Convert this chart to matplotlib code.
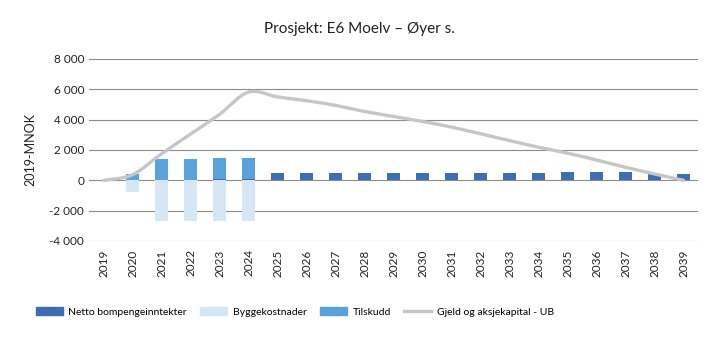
import numpy as np
import matplotlib.pyplot as plt
from matplotlib.path import Path
from matplotlib.patches import PathPatch
from matplotlib.lines import Line2D
from matplotlib.ticker import FuncFormatter

plt.rcParams['font.family'] = ['Lato', 'DejaVu Sans']

years = [str(y) for y in range(2019, 2040)]
netto = [0, 0, 40, 50, 80, 80, 470, 470, 470, 480, 480, 490, 490, 490, 490, 490,
         520, 520, 520, 400, 420]
bygg = [0, -750, -2680, -2680, -2680, -2680] + [0] * 15
tilskudd = [0, 420, 1350, 1330, 1390, 1390] + [0] * 15
gjeld = [0, 370, 1750, 3050, 4350, 5820, 5500, 5250, 4940, 4540, 4210, 3880,
         3510, 3070, 2620, 2185, 1790, 1340, 860, 420, 0]

c_netto = '#3e6db3'
c_bygg = '#d5e6f5'
c_tilsk = '#5aa2db'
c_line = '#c6c6c6'

fig = plt.figure(figsize=(7.19, 3.41), dpi=100)
ax = fig.add_axes([0.1238, 0.2933, 0.847, 0.5337])

x = np.arange(len(years))
w = 0.42
ax.bar(x, netto, w, color=c_netto, zorder=2)
ax.bar(x, bygg, w, color=c_bygg, zorder=2)
ax.bar(x, tilskudd, w, bottom=netto, color=c_tilsk, zorder=2)

# smoothed line (Catmull-Rom as cubic bezier)
pts = np.column_stack([x, gjeld]).astype(float)
verts = [pts[0]]
codes = [Path.MOVETO]
for i in range(len(pts) - 1):
    p0 = pts[max(i - 1, 0)]
    p1 = pts[i]
    p2 = pts[i + 1]
    p3 = pts[min(i + 2, len(pts) - 1)]
    verts += [p1 + (p2 - p0) / 6, p2 - (p3 - p1) / 6, p2]
    codes += [Path.CURVE4] * 3
ax.add_patch(PathPatch(Path(verts, codes), fill=False, edgecolor=c_line,
                       lw=2.4, zorder=3, capstyle='round'))

ax.set_xlim(-0.5, len(years) - 0.5)
ax.set_ylim(-4000, 8000)
ax.set_yticks(range(-4000, 8001, 2000))
ax.yaxis.set_major_formatter(FuncFormatter(lambda v, p: f'{int(v):,}'.replace(',', ' ')))
ax.set_xticks(x)
ax.set_xticklabels(years, rotation=90)
ax.grid(axis='y', color='#8c8c8c', lw=0.8, zorder=0)
ax.set_axisbelow(True)
for s in ax.spines.values():
    s.set_visible(False)
ax.tick_params(length=0, labelsize=8.5, colors='#222222')
ax.tick_params(axis='x', pad=6)
ax.set_ylabel('2019-MNOK', fontsize=9, labelpad=9, color='#222222')

fig.suptitle('Prosjekt: E6 Moelv – Øyer s.', x=0.5, y=0.935, fontsize=11, color='#222222')

handles = [
    plt.Rectangle((0, 0), 1, 1, color=c_netto),
    plt.Rectangle((0, 0), 1, 1, color=c_bygg),
    plt.Rectangle((0, 0), 1, 1, color=c_tilsk),
    Line2D([0], [0], color=c_line, lw=2.4),
]
labels = ['Netto bompengeinntekter', 'Byggekostnader', 'Tilskudd', 'Gjeld og aksjekapital - UB']
fig.legend(handles, labels, loc='center left', bbox_to_anchor=(0.05, 0.085), ncol=4,
           frameon=False, fontsize=7.5, handlelength=2.6, handleheight=0.7,
           columnspacing=1.3, handletextpad=0.5, borderpad=0, borderaxespad=0)

fig.savefig('out.png', dpi=100)
